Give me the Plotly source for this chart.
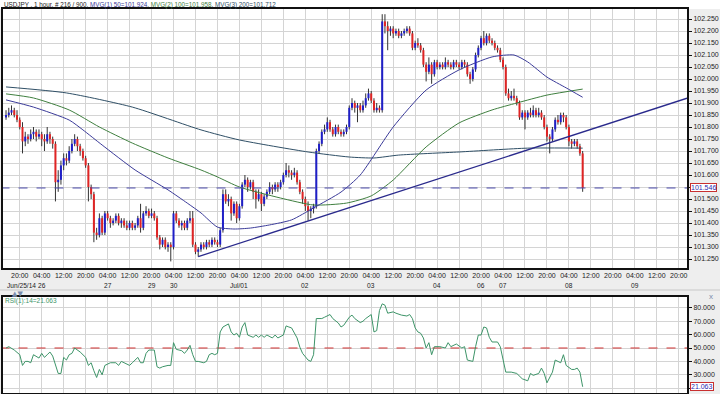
import plotly.graph_objects as go

# ---------------- data ----------------
symbol_text = "USDJPY , 1 hour, # 216 / 900"

opens = [101.84,101.85,101.86,101.87,101.85,101.83,101.80,101.74,101.76,101.75,
101.77,101.78,101.76,101.77,101.75,101.74,101.77,101.75,101.73,101.57,
101.58,101.64,101.67,101.66,101.70,101.73,101.75,101.72,101.70,101.67,
101.64,101.55,101.52,101.36,101.35,101.42,101.36,101.44,101.42,101.40,
101.41,101.43,101.40,101.41,101.39,101.38,101.40,101.38,101.39,101.42,
101.38,101.44,101.45,101.43,101.44,101.42,101.34,101.31,101.33,101.30,
101.31,101.30,101.44,101.41,101.39,101.40,101.38,101.41,101.42,101.31,
101.28,101.29,101.31,101.30,101.32,101.31,101.33,101.32,101.31,101.37,
101.52,101.49,101.50,101.44,101.48,101.42,101.47,101.56,101.58,101.55,
101.57,101.53,101.50,101.52,101.48,101.51,101.53,101.55,101.54,101.56,
101.55,101.57,101.60,101.62,101.61,101.60,101.61,101.57,101.53,101.50,
101.47,101.45,101.46,101.47,101.70,101.73,101.78,101.79,101.82,101.79,
101.77,101.80,101.78,101.77,101.78,101.80,101.88,101.90,101.88,101.89,
101.87,101.89,101.92,101.94,101.91,101.87,101.88,101.87,102.24,102.22,
102.20,102.21,102.19,102.20,102.18,102.19,102.20,102.21,102.19,102.13,
102.15,102.14,102.12,102.06,102.03,102.06,102.02,102.07,102.05,102.06,
102.05,102.07,102.06,102.05,102.07,102.06,102.05,102.07,102.06,102.02,
102.00,102.04,102.10,102.13,102.17,102.15,102.18,102.16,102.15,102.13,
102.12,102.08,102.05,101.94,101.92,101.93,101.92,101.90,101.84,101.86,
101.84,101.86,101.85,101.87,101.85,101.86,101.84,101.80,101.76,101.75,
101.79,101.83,101.82,101.85,101.84,101.80,101.74,101.73,101.74,101.72,
101.69]

highs = [101.87,101.88,101.89,101.88,101.87,101.84,101.82,101.78,101.77,101.79,
101.80,101.79,101.79,101.78,101.77,101.80,101.78,101.76,101.74,101.62,
101.66,101.69,101.69,101.72,101.75,101.77,101.76,101.73,101.71,101.68,
101.65,101.56,101.53,101.38,101.44,101.43,101.45,101.45,101.43,101.42,
101.44,101.44,101.42,101.42,101.41,101.41,101.41,101.40,101.43,101.48,
101.45,101.47,101.46,101.46,101.45,101.43,101.35,101.34,101.34,101.32,
101.32,101.45,101.45,101.42,101.41,101.41,101.42,101.45,101.45,101.32,
101.30,101.32,101.32,101.33,101.33,101.34,101.34,101.33,101.38,101.54,
101.54,101.52,101.51,101.49,101.49,101.48,101.57,101.60,101.59,101.58,
101.58,101.54,101.54,101.53,101.52,101.54,101.57,101.56,101.57,101.57,
101.58,101.61,101.65,101.64,101.62,101.63,101.62,101.58,101.54,101.51,
101.49,101.47,101.48,101.71,101.74,101.79,101.81,101.84,101.83,101.80,
101.81,101.81,101.79,101.79,101.81,101.89,101.92,101.91,101.90,101.90,
101.91,101.94,101.96,101.95,101.92,101.90,101.89,102.27,102.27,102.24,
102.22,102.22,102.21,102.21,102.20,102.21,102.22,102.22,102.20,102.16,
102.17,102.15,102.13,102.07,102.09,102.07,102.08,102.08,102.07,102.07,
102.09,102.08,102.07,102.08,102.08,102.07,102.08,102.08,102.07,102.03,
102.05,102.11,102.14,102.18,102.20,102.19,102.19,102.17,102.16,102.14,
102.13,102.09,102.06,101.96,101.95,101.96,101.93,101.91,101.87,101.87,
101.87,101.88,101.89,101.88,101.88,101.87,101.85,101.81,101.77,101.80,
101.84,101.85,101.86,101.86,101.85,101.81,101.75,101.75,101.75,101.73,
101.70]

lows = [101.83,101.84,101.85,101.84,101.82,101.79,101.69,101.72,101.73,101.74,
101.75,101.74,101.75,101.72,101.70,101.73,101.73,101.71,101.49,101.53,
101.56,101.62,101.64,101.65,101.69,101.72,101.70,101.68,101.66,101.63,
101.49,101.50,101.32,101.33,101.34,101.35,101.35,101.41,101.38,101.39,
101.40,101.39,101.38,101.38,101.37,101.37,101.37,101.37,101.38,101.36,
101.37,101.43,101.42,101.42,101.41,101.33,101.29,101.30,101.29,101.28,
101.24,101.29,101.40,101.38,101.37,101.37,101.37,101.40,101.30,101.27,
101.26,101.28,101.29,101.29,101.30,101.30,101.31,101.30,101.30,101.36,
101.48,101.47,101.41,101.43,101.40,101.41,101.46,101.55,101.53,101.54,
101.50,101.46,101.49,101.45,101.47,101.50,101.52,101.52,101.53,101.53,
101.54,101.56,101.59,101.59,101.58,101.59,101.56,101.52,101.48,101.45,
101.41,101.42,101.44,101.46,101.69,101.72,101.77,101.78,101.78,101.76,
101.76,101.77,101.76,101.76,101.77,101.79,101.87,101.86,101.82,101.86,
101.86,101.88,101.91,101.90,101.86,101.86,101.86,101.86,102.19,102.12,
102.18,102.17,102.18,102.17,102.17,102.18,102.19,102.18,102.12,102.12,
102.13,102.11,102.05,101.99,102.02,101.98,102.01,102.04,102.04,102.04,
102.04,102.05,102.04,102.04,102.05,102.04,102.04,102.05,102.01,101.98,
101.99,102.03,102.09,102.12,102.14,102.14,102.15,102.14,102.12,102.11,
102.07,102.04,101.93,101.91,101.91,101.91,101.89,101.83,101.83,101.79,
101.83,101.84,101.84,101.84,101.84,101.83,101.79,101.74,101.69,101.74,
101.78,101.81,101.81,101.82,101.79,101.72,101.71,101.72,101.71,101.68,
101.53]

closes = [101.85,101.86,101.87,101.85,101.83,101.80,101.74,101.76,101.75,101.77,
101.78,101.76,101.77,101.75,101.74,101.77,101.75,101.73,101.57,101.58,
101.64,101.67,101.66,101.70,101.73,101.75,101.72,101.70,101.67,101.64,
101.55,101.52,101.36,101.35,101.42,101.36,101.44,101.42,101.40,101.41,
101.43,101.40,101.41,101.39,101.38,101.40,101.38,101.39,101.42,101.38,
101.44,101.45,101.43,101.44,101.42,101.34,101.31,101.33,101.30,101.31,
101.30,101.44,101.41,101.39,101.40,101.38,101.41,101.42,101.31,101.28,
101.29,101.31,101.30,101.32,101.31,101.33,101.32,101.31,101.37,101.52,
101.49,101.50,101.44,101.48,101.42,101.47,101.56,101.58,101.55,101.57,
101.53,101.50,101.52,101.48,101.51,101.53,101.55,101.54,101.56,101.55,
101.57,101.60,101.62,101.61,101.60,101.61,101.57,101.53,101.50,101.47,
101.45,101.46,101.47,101.70,101.73,101.78,101.79,101.82,101.79,101.77,
101.80,101.78,101.77,101.78,101.80,101.88,101.90,101.88,101.89,101.87,
101.89,101.92,101.94,101.91,101.87,101.88,101.87,102.24,102.22,102.20,
102.21,102.19,102.20,102.18,102.19,102.20,102.21,102.19,102.13,102.15,
102.14,102.12,102.06,102.03,102.06,102.02,102.07,102.05,102.06,102.05,
102.07,102.06,102.05,102.07,102.06,102.05,102.07,102.06,102.02,102.00,
102.04,102.10,102.13,102.17,102.15,102.18,102.16,102.15,102.13,102.12,
102.08,102.05,101.94,101.92,101.93,101.92,101.90,101.84,101.86,101.84,
101.86,101.85,101.87,101.85,101.86,101.84,101.80,101.76,101.75,101.79,
101.83,101.82,101.85,101.84,101.80,101.74,101.73,101.74,101.72,101.69,
101.546]

ma50_bars = [0,10,23,28,35,47,59,66,71,77,83,89,96,104,112,122,129,141,153,165,177,185,190,197,204,210]
ma50_vals = [101.913,101.883,101.829,101.788,101.725,101.621,101.538,101.483,101.442,101.383,
             101.375,101.379,101.392,101.413,101.463,101.529,101.600,101.800,101.954,102.038,
             102.092,102.100,102.071,102.008,101.963,101.924]

ma100_bars = [0,10,23,34,46,59,71,77,85,100,112,124,133,141,153,165,177,186,197,210]
ma100_vals = [101.938,101.921,101.871,101.800,101.733,101.671,101.621,101.592,101.550,101.504,
              101.475,101.483,101.513,101.579,101.717,101.817,101.871,101.900,101.933,101.958]

ma200_bars = [0,22,46,71,85,110,125,134,143,165,190,210]
ma200_vals = [101.967,101.942,101.883,101.788,101.746,101.696,101.675,101.671,101.683,101.696,101.712,101.712]

trend_bars = [70, 248]
trend_vals = [101.26, 101.92]

rsi_bars = [0,1,3,5,6,7,8,9,10,12,13,14,15,16,17,18,19,20,21,22,23,24,25,27,28,29,30,31,32,33,
            34,35,36,38,40,41,42,44,45,46,47,48,49,50,51,52,54,55,56,57,59,60,61,62,64,65,66,67,68,69,
            70,72,73,74,75,76,77,78,79,81,82,83,84,85,86,87,88,90,91,92,93,94,95,97,98,99,101,102,103,104,
            106,107,108,110,111,112,113,115,116,118,119,121,122,123,125,126,127,129,130,131,133,134,135,136,
            137,138,139,141,142,144,146,147,148,149,150,151,152,153,154,155,156,158,160,161,162,164,166,167,
            168,170,171,172,173,174,175,176,177,179,180,181,182,184,186,188,190,191,192,194,195,196,197,199,
            200,202,203,204,206,207,208,209,210]
rsi_vals = [50,51,48.5,45,37,40,40,39,45,42.5,46,43,45,47,44,37,31,31,43,41,45,46,50,47,45,43,37,39,33,28,
            34,30,37,39,39,37,40,38,37,39,41,43,39,39,46,48.5,48.5,36,35,36,37,37,54,49,48,46,48.5,52,45,40,
            40,39,40,45,46,45,46,62,65.7,68,62,59.7,61,58,65.7,69,59.7,58,59.7,58,59.7,58,59.7,57.5,59.7,57.5,59.7,66.5,65.7,65,
            57.5,50.7,46,41,40,45,72,72,73,75,72,68.7,65.7,67,73,74.6,72,69,70,72,75,62,63,78,
            83,82,76,77,76,74.6,73.9,75,72,65,62,61,57.5,50,54,45,51,51,50,54,51,53,50,51,
            41,40,51,59.7,59.7,65.7,65,58,54.5,54.5,51,40,32,32,31,27,25.5,31,29.6,31,35,31,24,32,
            41,39,45,37,34,34,35,32,21.063]

time_labels = ["20:00","04:00","12:00","20:00","04:00","12:00","20:00","04:00","12:00","20:00",
               "04:00","12:00","20:00","04:00","12:00","20:00","04:00","12:00","20:00","04:00",
               "12:00","20:00","04:00","12:00","20:00","04:00","12:00","20:00","04:00","12:00","20:00"]
date_labels = ["Jun/25/14","26","27","29","30","Jul/01","02","03","04","06","07","08","09"]
date_tick_index = [0,1,4,6,7,10,13,16,19,21,22,25,28]

price_ticks = [101.25,101.30,101.35,101.40,101.45,101.50,101.55,101.60,101.65,101.70,101.75,
               101.80,101.85,101.90,101.95,102.00,102.05,102.10,102.15,102.20,102.25]
rsi_ticks = [20,30,40,50,60,70,80]

# ---------------- styling ----------------
FONT = "Liberation Sans, Arial, sans-serif"
FS = 7
UP = "#1f1fc8"
DOWN = "#e02424"
WICK = "#333333"
C50 = "#3b3b99"
C100 = "#3f7f3f"
C200 = "#2f4f66"
GRID = "#d4d4d4"

n = len(closes)
bars = list(range(n))
tick_bars = [5 + 8 * k for k in range(len(time_labels))]

# labels hidden behind the current-value boxes (as in the source chart)
last_p = closes[-1]
last_r = rsi_vals[-1]
price_text = ["" if abs(v - last_p) < 0.02 else f"{v:.3f}" for v in price_ticks]
rsi_text = ["" if abs(v - last_r) < 3 else f"{v:.3f}" for v in rsi_ticks]

fig = go.Figure()

# wicks
wx, wy = [], []
for b, h, l in zip(bars, highs, lows):
    wx += [b, b, None]
    wy += [l, h, None]
fig.add_trace(go.Scatter(x=wx, y=wy, mode="lines", line=dict(color=WICK, width=1),
                         xaxis="x", yaxis="y", hoverinfo="skip"))

# bodies
ux, uy, dx, dy = [], [], [], []
for b, o, c in zip(bars, opens, closes):
    if c >= o:
        ux += [b, b, None]
        uy += [o, c, None]
    else:
        dx += [b, b, None]
        dy += [o, c, None]
fig.add_trace(go.Scatter(x=ux, y=uy, mode="lines", line=dict(color=UP, width=2),
                         xaxis="x", yaxis="y", hoverinfo="skip"))
fig.add_trace(go.Scatter(x=dx, y=dy, mode="lines", line=dict(color=DOWN, width=2),
                         xaxis="x", yaxis="y", hoverinfo="skip"))

# moving averages
fig.add_trace(go.Scatter(x=ma200_bars, y=ma200_vals, mode="lines", line=dict(color=C200, width=1, shape="spline", smoothing=0.6),
                         xaxis="x", yaxis="y"))
fig.add_trace(go.Scatter(x=ma100_bars, y=ma100_vals, mode="lines", line=dict(color=C100, width=1, shape="spline", smoothing=0.6),
                         xaxis="x", yaxis="y"))
fig.add_trace(go.Scatter(x=ma50_bars, y=ma50_vals, mode="lines", line=dict(color=C50, width=1, shape="spline", smoothing=0.6),
                         xaxis="x", yaxis="y"))

# trend line
fig.add_trace(go.Scatter(x=trend_bars, y=trend_vals, mode="lines", line=dict(color="#2a2a8c", width=1.3),
                         xaxis="x", yaxis="y"))

# current price dashed line
fig.add_trace(go.Scatter(x=[-2, 260], y=[last_p, last_p], mode="lines",
                         line=dict(color="#4a4aaa", width=1, dash="dash"), xaxis="x", yaxis="y"))

# RSI
fig.add_trace(go.Scatter(x=[-2, 260], y=[50, 50], mode="lines",
                         line=dict(color="#d03030", width=1, dash="dash"), xaxis="x2", yaxis="y2"))
fig.add_trace(go.Scatter(x=rsi_bars, y=rsi_vals, mode="lines", line=dict(color="#3d9468", width=1),
                         xaxis="x2", yaxis="y2"))

XR = [-1.1, 248.0]
main_dom = [0.3255, 1.0]
rsi_dom = [0.0, 0.25]

axis_common = dict(showline=True, mirror=True, linecolor="#111111", linewidth=2,
                   gridcolor=GRID, gridwidth=1, zeroline=False)
tfont = dict(family=FONT, size=FS, color="#222222")

fig.update_layout(
    width=720, height=394,
    margin=dict(l=2, r=32, t=9, b=1),
    paper_bgcolor="#eeeeee", plot_bgcolor="#ffffff",
    showlegend=False, hovermode=False,
    font=dict(family=FONT, size=FS, color="#222222"),
    xaxis=dict(domain=[0, 1], range=XR, anchor="y", tickmode="array", tickvals=tick_bars,
               ticktext=time_labels, ticks="", showgrid=True, tickangle=0,
               tickfont=tfont, **axis_common),
    yaxis=dict(domain=main_dom, range=[101.2125, 102.2917], anchor="x", side="right",
               tickmode="array", tickvals=price_ticks, ticktext=price_text,
               ticks="outside", ticklen=3, tickcolor="#111111", showgrid=True,
               tickfont=tfont, **axis_common),
    xaxis2=dict(domain=[0, 1], range=XR, anchor="y2", tickmode="array", tickvals=tick_bars,
                showticklabels=False, ticks="", showgrid=True, **axis_common),
    yaxis2=dict(domain=rsi_dom, range=[16.4, 88.1], anchor="x2", side="right",
                tickmode="array", tickvals=rsi_ticks, ticktext=rsi_text,
                ticks="outside", ticklen=3, tickcolor="#111111", showgrid=True,
                tickfont=tfont, **axis_common),
)

# header strip and separator
fig.add_shape(type="rect", xref="paper", yref="paper", x0=-0.01, x1=1.05, y0=1.0, y1=1.03,
              fillcolor="#ffffff", line=dict(width=0), layer="below")
fig.add_shape(type="line", xref="paper", yref="paper", x0=-0.01, x1=1.05, y0=0.2682, y1=0.2682,
              line=dict(color="#c8c8c8", width=1))

header = (f"{symbol_text}, "
          f"<span style='color:{C50}'>MVG(1) 50={ma50_vals[-1]:.3f}</span>, "
          f"<span style='color:{C100}'>MVG(2) 100={ma100_vals[-1]:.3f}</span>, "
          f"<span style='color:{C200}'>MVG(3) 200={ma200_vals[-1]:.3f}</span>")
fig.add_annotation(text=header, xref="paper", yref="paper", x=0, y=1.0117, xanchor="left",
                   yanchor="middle", showarrow=False, font=dict(family=FONT, size=6.3, color="#222222"),
                   borderpad=0)

# date labels row
for idx, lab in zip(date_tick_index, date_labels):
    first = idx == 0
    fig.add_annotation(text=lab, xref="x", yref="paper", x=tick_bars[idx], y=0.28,
                       xanchor="left" if first else "center", xshift=-14 if first else 0,
                       yanchor="middle", showarrow=False, borderpad=0,
                       font=dict(family=FONT, size=6.6, color="#222222"))

# current value boxes
fig.add_annotation(text=f"{last_p:.3f}", xref="paper", yref="y", x=1, y=last_p,
                   xanchor="left", xshift=3, yanchor="middle", showarrow=False,
                   font=dict(family=FONT, size=FS, color="#2a2ab0"), bgcolor="#ffffff",
                   bordercolor="#c83030", borderwidth=1, borderpad=0)
fig.add_annotation(text=f"{last_r:.3f}", xref="paper", yref="y2", x=1, y=last_r,
                   xanchor="left", xshift=3, yanchor="middle", showarrow=False,
                   font=dict(family=FONT, size=FS, color="#2a2ab0"), bgcolor="#ffffff",
                   bordercolor="#c83030", borderwidth=1, borderpad=0)

# RSI caption
fig.add_annotation(text=f"RSI(1):14={last_r:.3f}", xref="paper", yref="paper", x=0, y=0.2396,
                   xanchor="left", xshift=1, yanchor="middle", showarrow=False, borderpad=0,
                   font=dict(family=FONT, size=6.5, color="#3d9468"))

# small panel controls
fig.add_annotation(text="▲▼", xref="paper", yref="paper", x=0.012, y=0.2578, xanchor="left",
                   yanchor="middle", showarrow=False, borderpad=0,
                   font=dict(family="DejaVu Sans", size=7, color="#7a8cab"))
fig.add_annotation(text="x", xref="paper", yref="paper", x=1.035, y=0.2526, xanchor="center",
                   yanchor="middle", showarrow=False, borderpad=0,
                   font=dict(family=FONT, size=8, color="#7a8cab"))

fig.write_html("out.html", config={"displayModeBar": False},
               post_script="document.body.style.margin='0px';document.body.style.padding='0px';")
